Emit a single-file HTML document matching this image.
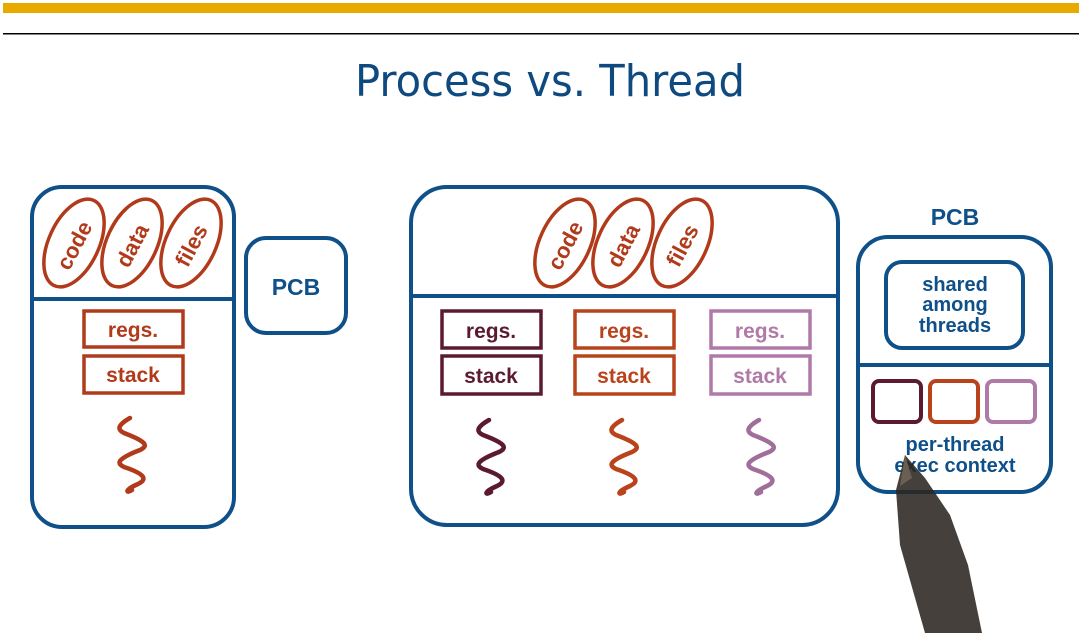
<!DOCTYPE html>
<html><head><meta charset="utf-8"><style>
html,body{margin:0;padding:0;background:#fff;width:1079px;height:633px;overflow:hidden}
svg text{font-family:"Liberation Sans",sans-serif;font-weight:bold}
</style></head><body>
<svg width="1079" height="633" viewBox="0 0 1079 633" xmlns="http://www.w3.org/2000/svg">
<defs>
<g id="sq"><path d="M0,0 C-14,8 -12,12 -6,15 C18,24 18,28 10,32 C-16,42 -12,46 -6,49 C18,57 16,62 8,66 C-6,72 -4,76 2,72" fill="none" stroke-width="4.5" stroke-linecap="round" stroke-linejoin="round"/></g>
</defs>
<rect x="3" y="3" width="1076" height="10" fill="#e9aa00"/>
<rect x="3" y="33" width="1076" height="1.5" fill="#000"/>
<text x="355" y="96" font-size="44" fill="#0e4a80" style="font-weight:normal;font-family:'DejaVu Sans',sans-serif" textLength="390" lengthAdjust="spacingAndGlyphs">Process vs. Thread</text>

<g fill="none" stroke="#0f5089" stroke-width="4">
<rect x="32" y="187" width="202" height="340" rx="30"/>
<line x1="32" y1="299" x2="234" y2="299"/>
<rect x="246" y="238" width="100" height="95" rx="20"/>
<rect x="411" y="187" width="427" height="338" rx="36"/>
<line x1="411" y1="296" x2="838" y2="296"/>
<rect x="858" y="237" width="193" height="255" rx="30"/>
<line x1="858" y1="365" x2="1051" y2="365"/>
<rect x="886" y="262" width="137" height="86" rx="16"/>
</g>
<text x="296" y="295" font-size="23" fill="#0f5089" text-anchor="middle">PCB</text>
<text x="955" y="225" font-size="23" fill="#0f5089" text-anchor="middle">PCB</text>
<g font-size="20" fill="#0f5089" text-anchor="middle">
<text x="955" y="291">shared</text><text x="955" y="311">among</text><text x="955" y="332">threads</text>
<text x="955" y="451">per-thread</text><text x="955" y="472">exec context</text>
</g>
<rect x="873" y="381" width="48" height="41" rx="6" fill="none" stroke="#5c1a30" stroke-width="4"/>
<rect x="930" y="381" width="48" height="41" rx="6" fill="none" stroke="#b9441b" stroke-width="4"/>
<rect x="987" y="381" width="48" height="41" rx="6" fill="none" stroke="#b07aa8" stroke-width="4"/>

<g fill="none" stroke="#b03a1a" stroke-width="3.5">
<ellipse cx="74" cy="243" rx="25" ry="47" transform="rotate(25 74 243)"/>
<ellipse cx="132" cy="243" rx="25" ry="47" transform="rotate(25 132 243)"/>
<ellipse cx="191" cy="243" rx="25" ry="47" transform="rotate(25 191 243)"/>
<ellipse cx="565" cy="243" rx="25" ry="47" transform="rotate(25 565 243)"/>
<ellipse cx="623" cy="243" rx="25" ry="47" transform="rotate(25 623 243)"/>
<ellipse cx="682" cy="243" rx="25" ry="47" transform="rotate(25 682 243)"/>
</g>
<g font-size="22" fill="#b03a1a" text-anchor="middle">
<text transform="translate(81,249) rotate(-62)">code</text>
<text transform="translate(139,249) rotate(-62)">data</text>
<text transform="translate(198,249) rotate(-62)">files</text>
<text transform="translate(572,249) rotate(-62)">code</text>
<text transform="translate(630,249) rotate(-62)">data</text>
<text transform="translate(689,249) rotate(-62)">files</text>
</g>

<g fill="none" stroke-width="3.5">
<rect x="84" y="311" width="99" height="36" stroke="#b03a1a"/>
<rect x="84" y="356" width="99" height="37" stroke="#b03a1a"/>
<rect x="442" y="311" width="99" height="37" stroke="#5c1a30"/>
<rect x="442" y="356" width="99" height="38" stroke="#5c1a30"/>
<rect x="575" y="311" width="99" height="37" stroke="#b9441b"/>
<rect x="575" y="356" width="99" height="38" stroke="#b9441b"/>
<rect x="711" y="311" width="99" height="37" stroke="#b07aa8"/>
<rect x="711" y="356" width="99" height="38" stroke="#b07aa8"/>
</g>
<g font-size="21" text-anchor="middle">
<text x="133" y="337" fill="#b03a1a">regs.</text><text x="133" y="382" fill="#b03a1a">stack</text>
<text x="491" y="338" fill="#5c1a30">regs.</text><text x="491" y="383" fill="#5c1a30">stack</text>
<text x="624" y="338" fill="#b9441b">regs.</text><text x="624" y="383" fill="#b9441b">stack</text>
<text x="760" y="338" fill="#b07aa8">regs.</text><text x="760" y="383" fill="#b07aa8">stack</text>
</g>
<use href="#sq" x="130" y="418" stroke="#b03a1a"/>
<use href="#sq" x="489" y="420" stroke="#5c1a30"/>
<use href="#sq" x="622" y="420" stroke="#b9441b"/>
<use href="#sq" x="759" y="420" stroke="#a06e98"/>

<polygon points="905,455 925,478 950,515 968,565 982,633 925,633 900,545 896,490" fill="#2b2520" opacity="0.88"/>
<polygon points="905,455 912,478 900,486" fill="#6b5e52"/>
</svg>
</body></html>
